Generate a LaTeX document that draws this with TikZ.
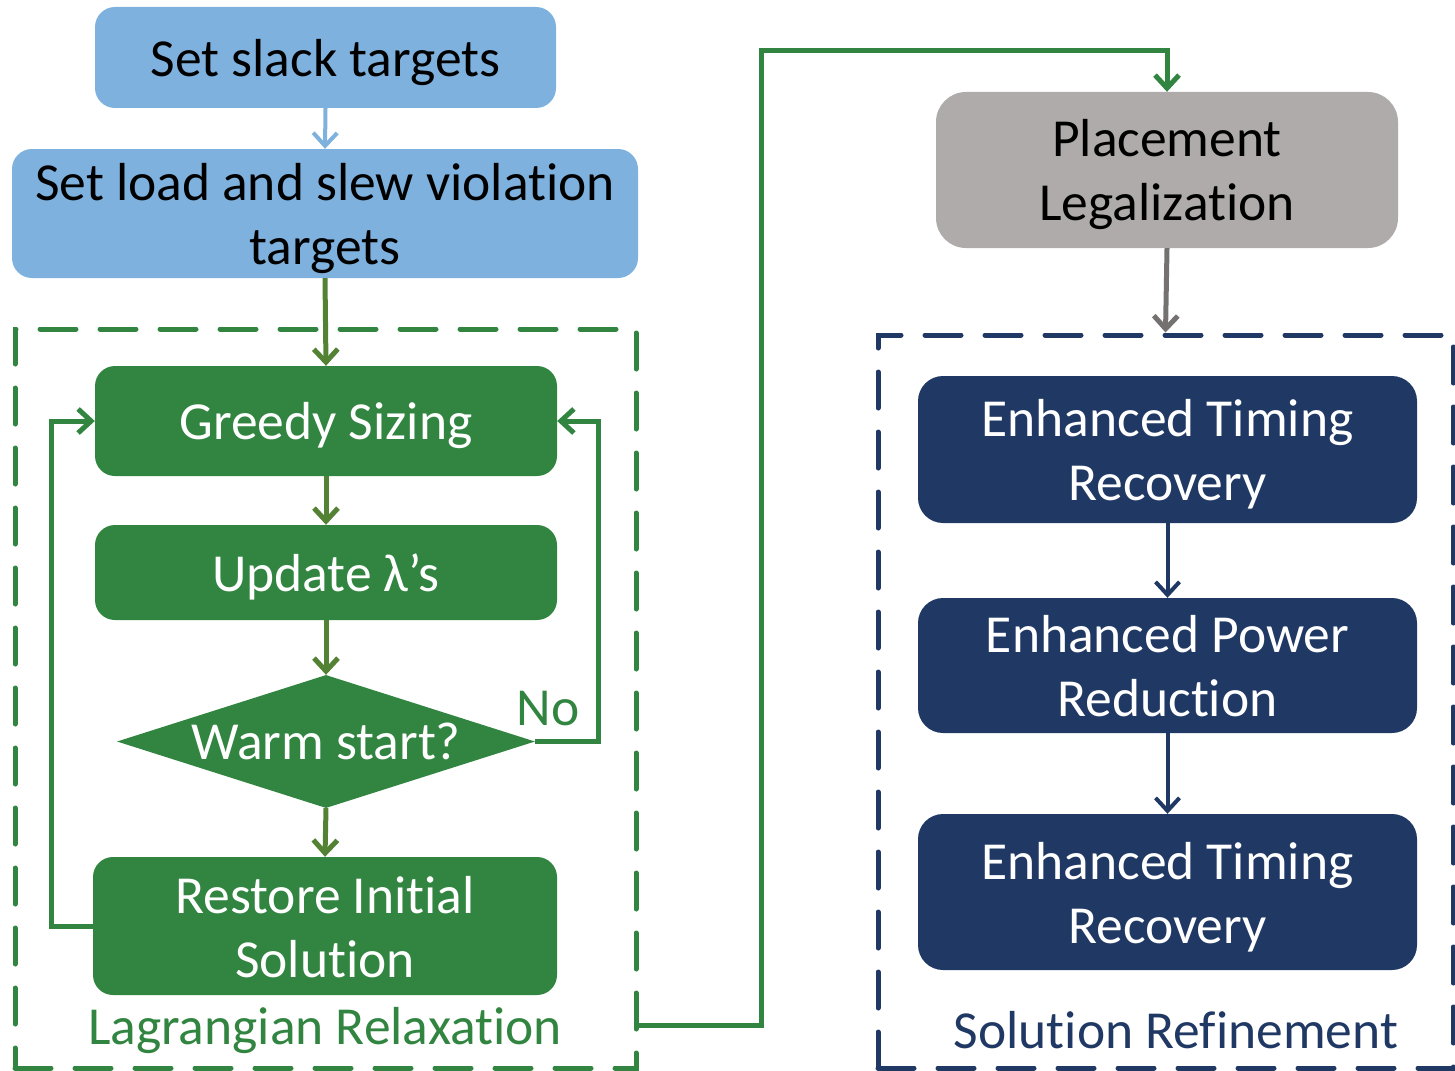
\documentclass[tikz,border=0pt]{standalone}
\usepackage{fontspec}
\setmainfont[Ligatures=NoCommon]{Carlito}
\usetikzlibrary{arrows.meta,shapes.geometric}
\definecolor{lblue}{HTML}{7EB1DE}
\definecolor{gfill}{HTML}{318540}
\definecolor{olive}{HTML}{548235}
\definecolor{gbox}{HTML}{AEABAA}
\definecolor{garrow}{HTML}{767171}
\definecolor{navy}{HTML}{203864}
\newcommand\Lst{\rule[-9pt]{0pt}{56pt}}
\tikzset{
  txt/.style={font=\fontsize{53.5}{64}\selectfont, align=center, inner sep=0pt},
  bluebox/.style={txt, fill=lblue, rounded corners=20pt, text=black},
  greenbox/.style={txt, fill=gfill, rounded corners=20pt, text=white},
  graybox/.style={txt, fill=gbox, rounded corners=30pt, text=black},
  navybox/.style={txt, fill=navy, rounded corners=25pt, text=white},
  tip/.style={-{Straight Barb[length=13pt,width=24pt]}},
  bluearrow/.style={tip, draw=lblue, line width=4pt},
  olivearrow/.style={tip, draw=olive, line width=5pt},
  greenline/.style={draw=gfill, line width=5pt},
  grayarrow/.style={tip, draw=garrow, line width=5pt},
  navyarrow/.style={tip, draw=navy, line width=4pt},
  frame/.style={draw, line width=5pt, dash pattern=on 36pt off 24pt, line cap=round, inner sep=0pt},
}
\begin{document}
\begin{tikzpicture}[x=1pt,y=-1pt]
\useasboundingbox (0,0) rectangle (1455,1070);
% frames
\node[frame, draw=gfill, minimum width=621pt, minimum height=739pt] (lrbox) at (325.5,698.5) {};
\node[frame, draw=navy, minimum width=575pt, minimum height=733pt] (srbox) at (1165.5,701.5) {};
% left column
\node[bluebox, minimum width=461pt, minimum height=101pt] (b1) at (325.5,57.5) {\Lst Set slack targets};
\node[bluebox, minimum width=626pt, minimum height=129pt] (b2) at (325,213.5) {\Lst Set load and slew violation\\\Lst targets};
\node[greenbox, minimum width=462pt, minimum height=110pt] (gs) at (326,421) {\Lst Greedy Sizing};
\node[greenbox, minimum width=462pt, minimum height=95pt] (ul) at (326,572.5) {\Lst Update λ’s};
\node[diamond, fill=gfill, text=white, font=\fontsize{53.5}{64}\selectfont, inner sep=0pt, shape aspect=3.14, minimum width=418pt, minimum height=133pt] (dia) at (326,741.5) {Warm start?};
\node[greenbox, minimum width=464pt, minimum height=138pt] (rs) at (325,926) {\Lst Restore Initial\\\Lst Solution};
\node[txt, text=gfill] (no) at (548,709) {No};
\node[txt, text=gfill] (lrlab) at (325,1031) {Lagrangian Relaxation};
% right column
\node[graybox, minimum width=462pt, minimum height=156pt] (pl) at (1167,170) {\Lst Placement\\\Lst Legalization};
\node[navybox, minimum width=499pt, minimum height=147pt] (e1) at (1167.5,449.5) {\Lst Enhanced Timing\\\Lst Recovery};
\node[navybox, minimum width=499pt, minimum height=135pt] (e2) at (1167.5,665.5) {\Lst Enhanced Power\\\Lst Reduction};
\node[navybox, minimum width=499pt, minimum height=156pt] (e3) at (1167.5,892) {\Lst Enhanced Timing\\\Lst Recovery};
\node[txt, text=navy] (srlab) at (1176,1030) {Solution Refinement};
% connectors
\draw[bluearrow] (b1.south) -- (b2.north);
\draw[olivearrow] (b2.south) -- (gs.north);
\draw[olivearrow] (gs.south) -- (ul.north);
\draw[olivearrow] (ul.south) -- (dia.north);
\draw[olivearrow] (dia.south) -- (rs.north);
\draw[greenline, tip] (rs.west) -- ++(-41,0) |- (gs.west);
\draw[greenline, tip] (dia.east) -- ++(63,0) |- (gs.east);
\coordinate (lrout) at (636,1025);
\coordinate (bend) at (761,51);
\draw[greenline, tip] (lrout) -| (bend) -| (pl.north);
\draw[grayarrow] (pl.south) -- (srbox.north);
\draw[navyarrow] (e1.south) -- (e2.north);
\draw[navyarrow] (e2.south) -- (e3.north);
\end{tikzpicture}
\end{document}
